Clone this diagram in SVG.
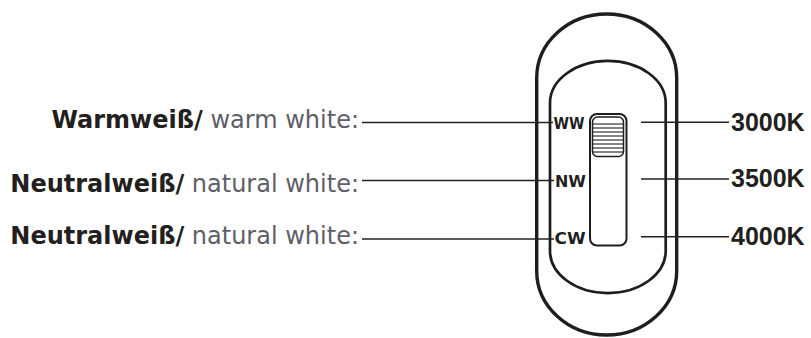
<svg xmlns="http://www.w3.org/2000/svg" width="811" height="338" viewBox="0 0 811 338">
  <style>
    .body { fill: none; stroke: #1e1e1e; stroke-linejoin: round; }
    .conn { stroke: #222; stroke-width: 1.6; fill: none; }
    .lbl { font-family: "DejaVu Sans", sans-serif; font-size: 24px; }
    .b { font-weight: bold; fill: #231f20; }
    .r { fill: #5e5e68; }
    .pos { font-family: "DejaVu Sans", sans-serif; font-weight: bold; font-size: 16px; fill: #1e1e1e; }
    .k { font-family: "Liberation Sans", Arial, sans-serif; font-weight: bold; font-size: 25px; fill: #231f20; }
    .stripe { stroke: #1e1e1e; stroke-width: 1.1; }
  </style>
  <rect width="811" height="338" fill="#ffffff"/>

  <g id="switch-housing">
    <path class="body" stroke-width="3.4" d="M536.7,78 A70,64 0 0 1 676.7,78 L676.7,271 A70,64 0 0 1 536.7,271 Z"/>
    <path class="body" stroke-width="2.7" d="M550,103 A57.8,42 0 0 1 665.7,103 L665.7,251 A57.8,42 0 0 1 550,251 Z"/>
  </g>

  <g id="slider">
    <rect class="body" stroke-width="2" x="590" y="114" width="36.5" height="131.5" rx="7" ry="7"/>
    <rect class="body" stroke-width="1.5" x="592.5" y="117" width="31" height="39.5" rx="5" ry="5"/>
    <g class="stripe">
      <line x1="592.5" y1="124" x2="623.5" y2="124"/>
      <line x1="592.5" y1="128" x2="623.5" y2="128"/>
      <line x1="592.5" y1="132" x2="623.5" y2="132"/>
      <line x1="592.5" y1="136" x2="623.5" y2="136"/>
      <line x1="592.5" y1="140" x2="623.5" y2="140"/>
      <line x1="592.5" y1="144" x2="623.5" y2="144"/>
      <line x1="592.5" y1="148" x2="623.5" y2="148"/>
      <line x1="592.5" y1="152" x2="623.5" y2="152"/>
    </g>
  </g>

  <g id="pos-ww"><text class="pos" x="553.5" y="128.8" textLength="31" lengthAdjust="spacingAndGlyphs">WW</text></g>
  <g id="pos-nw"><text class="pos" x="555" y="187.3" textLength="31" lengthAdjust="spacingAndGlyphs">NW</text></g>
  <g id="pos-cw"><text class="pos" x="554.5" y="244.3" textLength="31" lengthAdjust="spacingAndGlyphs">CW</text></g>

  <g id="label-warm"><text class="lbl" x="359" y="128" text-anchor="end"><tspan class="b">Warmweiß/</tspan><tspan class="r"> warm white:</tspan></text></g>
  <g id="label-natural-1"><text class="lbl" x="359" y="191.5" text-anchor="end"><tspan class="b">Neutralweiß/</tspan><tspan class="r"> natural white:</tspan></text></g>
  <g id="label-natural-2"><text class="lbl" x="359" y="243.5" text-anchor="end"><tspan class="b">Neutralweiß/</tspan><tspan class="r"> natural white:</tspan></text></g>

  <g id="k-3000"><text class="k" x="731" y="131">3000K</text></g>
  <g id="k-3500"><text class="k" x="731" y="186.5">3500K</text></g>
  <g id="k-4000"><text class="k" x="731" y="244.5">4000K</text></g>

  <g id="connectors">
    <line class="conn" x1="362" y1="122.5" x2="553" y2="122.5"/>
    <line class="conn" x1="362" y1="180.5" x2="554" y2="180.5"/>
    <line class="conn" x1="362" y1="239" x2="554" y2="239"/>
    <line class="conn" x1="641" y1="122.3" x2="729" y2="122.3"/>
    <line class="conn" x1="641" y1="179" x2="729" y2="179"/>
    <line class="conn" x1="641" y1="236.7" x2="729" y2="236.7"/>
  </g>
</svg>
